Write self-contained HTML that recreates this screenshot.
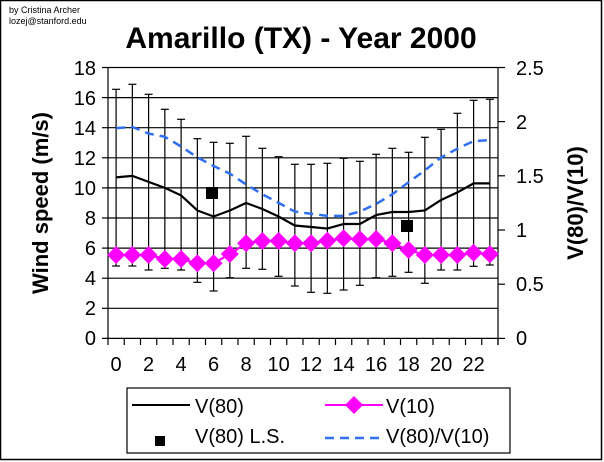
<!DOCTYPE html>
<html><head><meta charset="utf-8"><style>
html,body{margin:0;padding:0;background:#fff}
svg{display:block}
text{font-family:"Liberation Sans",Arial,sans-serif}
</style></head><body>
<svg width="604" height="462" viewBox="0 0 604 462" xmlns="http://www.w3.org/2000/svg">
<rect x="0" y="0" width="604" height="462" fill="#fff"/>
<rect x="0.5" y="0.5" width="601" height="459" fill="none" stroke="#000" stroke-width="1.5"/>
<text x="9" y="13" font-size="9">by Cristina Archer</text>
<text x="9" y="24" font-size="9">lozej@stanford.edu</text>
<text x="301" y="48" font-size="30" font-weight="bold" text-anchor="middle">Amarillo (TX) - Year 2000</text>
<g stroke="#000" stroke-width="1.2">
<line x1="108" y1="67.5" x2="498" y2="67.5"/><line x1="108" y1="97.6" x2="498" y2="97.6"/>
<line x1="108" y1="127.7" x2="498" y2="127.7"/><line x1="108" y1="157.8" x2="498" y2="157.8"/>
<line x1="108" y1="187.9" x2="498" y2="187.9"/><line x1="108" y1="218" x2="498" y2="218"/>
<line x1="108" y1="248.1" x2="498" y2="248.1"/><line x1="108" y1="278.2" x2="498" y2="278.2"/>
<line x1="108" y1="308.3" x2="498" y2="308.3"/><line x1="102" y1="338.4" x2="498" y2="338.4"/>
<line x1="108" y1="67" x2="108" y2="338"/><line x1="498" y1="67" x2="498" y2="345"/>
<line x1="102" y1="67.5" x2="108" y2="67.5"/><line x1="102" y1="97.6" x2="108" y2="97.6"/><line x1="102" y1="127.7" x2="108" y2="127.7"/><line x1="102" y1="157.8" x2="108" y2="157.8"/><line x1="102" y1="187.9" x2="108" y2="187.9"/><line x1="102" y1="218" x2="108" y2="218"/><line x1="102" y1="248.1" x2="108" y2="248.1"/><line x1="102" y1="278.2" x2="108" y2="278.2"/><line x1="102" y1="308.3" x2="108" y2="308.3"/>
<line x1="498" y1="67.5" x2="505" y2="67.5"/><line x1="498" y1="121.6" x2="505" y2="121.6"/><line x1="498" y1="175.8" x2="505" y2="175.8"/><line x1="498" y1="230" x2="505" y2="230"/><line x1="498" y1="284.2" x2="505" y2="284.2"/><line x1="498" y1="338.4" x2="505" y2="338.4"/>
</g>
<g stroke="#000" stroke-width="1.2" id="xt"></g>
<g font-size="20" text-anchor="end">
<text x="96" y="75">18</text><text x="96" y="105">16</text><text x="96" y="135">14</text><text x="96" y="165">12</text><text x="96" y="195">10</text><text x="96" y="225">8</text><text x="96" y="255">6</text><text x="96" y="285">4</text><text x="96" y="315">2</text><text x="96" y="345">0</text>
</g>
<g font-size="20">
<text x="516" y="75">2.5</text><text x="516" y="129">2</text><text x="516" y="183">1.5</text><text x="516" y="237">1</text><text x="516" y="291">0.5</text><text x="516" y="345">0</text>
</g>
<g font-size="20" text-anchor="middle" id="xl"></g>
<text transform="translate(48,203) rotate(-90)" font-size="22" font-weight="bold" text-anchor="middle">Wind speed (m/s)</text>
<text transform="translate(583,203) rotate(-90)" font-size="22" font-weight="bold" text-anchor="middle">V(80)/V(10)</text>
<g id="eb" stroke="#000" stroke-width="1.2"></g>
<polyline id="bl" fill="none" stroke="#2f6ff0" stroke-width="2.5" stroke-dasharray="9,6"/>
<polyline id="k" fill="none" stroke="#000" stroke-width="2.2"/>
<polyline id="m" fill="none" stroke="#ff00ff" stroke-width="2.2"/>
<g id="md" fill="#ff00ff"></g>
<rect x="206" y="187" width="12" height="12" fill="#000"/>
<rect x="401" y="220" width="12" height="12" fill="#000"/>
<rect x="127" y="388" width="383" height="65" fill="#fff" stroke="#000" stroke-width="1.2"/>
<line x1="132" y1="405" x2="190" y2="405" stroke="#000" stroke-width="2"/>
<text x="195" y="413" font-size="20">V(80)</text>
<line x1="325" y1="405" x2="383" y2="405" stroke="#ff00ff" stroke-width="2"/>
<polygon points="354,396 363,405 354,414 345,405" fill="#ff00ff"/>
<text x="386" y="413" font-size="20">V(10)</text>
<rect x="155" y="436" width="10" height="10" fill="#000"/>
<text x="195" y="443" font-size="20">V(80) L.S.</text>
<line x1="325" y1="438" x2="383" y2="438" stroke="#2f6ff0" stroke-width="2.5" stroke-dasharray="9,6"/>
<text x="386" y="443" font-size="20">V(80)/V(10)</text>
<script>
var ns="http://www.w3.org/2000/svg";
function X(i){return 116.1+i*16.25;}
var k=[10.7,10.8,10.4,10.0,9.5,8.5,8.1,8.5,9.0,8.6,8.1,7.5,7.4,7.3,7.6,7.6,8.2,8.4,8.4,8.5,9.2,9.7,10.3,10.3];
var r=[1.94,1.95,1.89,1.86,1.77,1.67,1.59,1.52,1.42,1.33,1.25,1.17,1.15,1.13,1.13,1.17,1.24,1.33,1.44,1.55,1.67,1.75,1.82,1.83];
var m=[255,255,255,259,259,263.3,263.3,254,243.3,241,241,243.3,243.3,240.7,238.3,239.3,239,243.3,250,255,255,255,252.7,254.3];
var et=[89.3,84.3,94.3,109.3,119.3,138.7,142.3,143.3,136.3,148.3,156.7,164.3,164.3,163.3,158.3,161.3,154.3,148.3,152.3,137.3,129.3,113.3,100.3,99.3];
var eb=[266,266,270,268.3,270,282.3,291,277.7,268.3,269.3,276.3,286,292.3,293.3,290,285.3,277.7,276.3,272.3,283.3,270,270,266.3,265];
function el(t,a,p){var e=document.createElementNS(ns,t);for(var q in a)e.setAttribute(q,a[q]);(p).appendChild(e);return e;}
var xt=document.getElementById('xt'),xl=document.getElementById('xl'),g=document.getElementById('eb'),md=document.getElementById('md');
var pk=[],pb=[],pm=[];
for(var i=0;i<=24;i++){var x=108+i*16.25;el('line',{x1:x,y1:338,x2:x,y2:345},xt);}
for(var i=0;i<24;i++){var x=X(i);
 if(i%2==0){var t=el('text',{x:x,y:371},xl);t.textContent=i;}
 el('line',{x1:x,y1:et[i],x2:x,y2:eb[i]},g);
 el('line',{x1:x-4,y1:et[i],x2:x+4,y2:et[i]},g);
 el('line',{x1:x-4,y1:eb[i],x2:x+4,y2:eb[i]},g);
 pk.push(x+','+(338.4-k[i]*15.05));
 pb.push(x+','+(338.4-r[i]*108.4));
 pm.push(x+','+m[i]);
 el('polygon',{points:(x)+','+(m[i]-9)+' '+(x+9)+','+m[i]+' '+x+','+(m[i]+9)+' '+(x-9)+','+m[i]},md);
}
document.getElementById('k').setAttribute('points',pk.join(' '));
document.getElementById('bl').setAttribute('points',pb.join(' '));
document.getElementById('m').setAttribute('points',pm.join(' '));
</script>
</svg>
</body></html>
